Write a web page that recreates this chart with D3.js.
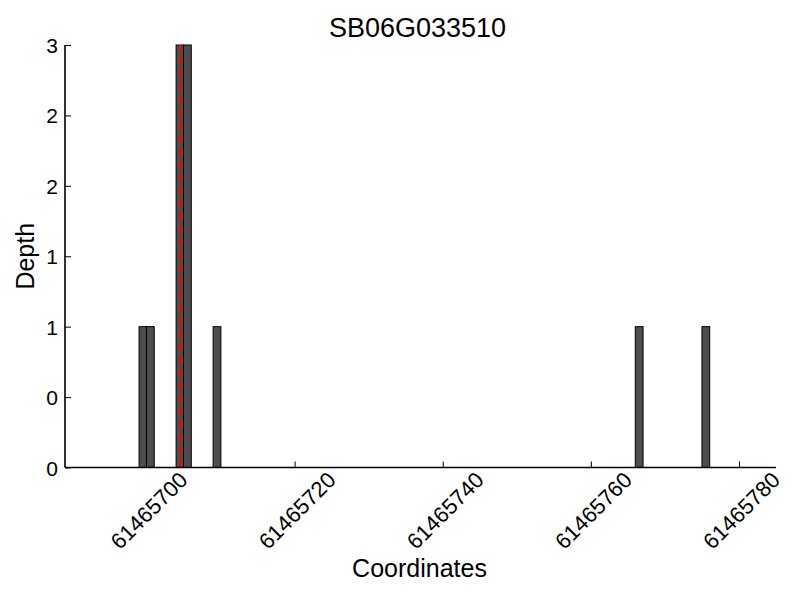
<!DOCTYPE html>
<html>
<head>
<meta charset="utf-8">
<script src="https://cdn.jsdelivr.net/npm/d3@7"></script>
<style>
  body { margin: 0; background: #fff; }
  text { font-family: "Liberation Sans", Arial, Helvetica, sans-serif; fill: #000; }
</style>
</head>
<body>
<svg id="chart" width="800" height="600"></svg>
<script>
// ---- data ----
const title = "SB06G033510";
const xLabel = "Coordinates";
const yLabel = "Depth";
const binStarts = [61465699, 61465700, 61465704, 61465705, 61465709, 61465766, 61465775];
const depths    = [1, 1, 3, 3, 1, 1, 1];
const binWidth  = 1.05;
const markerPos = 61465704.55;
const xDomain = [61465689, 61465785];
const yDomain = [0, 3];
const xTickValues = [61465700, 61465720, 61465740, 61465760, 61465780];
const xTickLabels = ["61465700", "61465720", "61465740", "61465760", "61465780"];
const yTickValues = [0, 0.5, 1, 1.5, 2, 2.5, 3];
const yTickLabels = ["0", "0", "1", "1", "2", "2", "3"];

// ---- layout ----
const pLeft = 65, pRight = 776, pTop = 45, pBottom = 467.5;
const svg = d3.select("#chart");
const x = d3.scaleLinear().domain(xDomain).range([pLeft, pRight]);
const y = d3.scaleLinear().domain(yDomain).range([pBottom, pTop]);

// x axis ticks (inward)
const xAxis = d3.axisBottom(x).tickValues(xTickValues)
  .tickFormat((d, i) => xTickLabels[i]).tickSizeInner(-6).tickSizeOuter(0);
const gx = svg.append("g").attr("transform", `translate(0,${pBottom})`).call(xAxis);
gx.select(".domain").remove();
gx.selectAll(".tick line").attr("stroke", "#000").attr("stroke-width", 1);
gx.selectAll(".tick text")
  .attr("font-size", 22)
  .attr("text-anchor", "middle")
  .attr("y", 0).attr("dy", "0.35em")
  .attr("transform", "translate(2,43) rotate(-45)");

// y axis ticks (inward)
const yAxis = d3.axisLeft(y).tickValues(yTickValues)
  .tickFormat((d, i) => yTickLabels[i]).tickSizeInner(-6).tickSizeOuter(0).tickPadding(7);
const gy = svg.append("g").attr("transform", `translate(${pLeft},0)`).call(yAxis);
gy.select(".domain").remove();
gy.selectAll(".tick line").attr("stroke", "#000").attr("stroke-width", 1);
gy.selectAll(".tick text").attr("font-size", 21).attr("dy", "0.36em");

// bars
svg.append("g").selectAll("rect").data(binStarts).join("rect")
  .attr("x", d => x(d))
  .attr("width", d => x(d + binWidth) - x(d))
  .attr("y", (d, i) => y(depths[i]))
  .attr("height", (d, i) => y(0) - y(depths[i]))
  .attr("fill", "#4d4d4d")
  .attr("stroke", "#000")
  .attr("stroke-width", 1);

// marker line
svg.append("line")
  .attr("x1", x(markerPos)).attr("x2", x(markerPos))
  .attr("y1", y(yDomain[0])).attr("y2", y(yDomain[1]))
  .attr("stroke", "#ff0000").attr("stroke-width", 2.2)
  .attr("stroke-dasharray", "9,4");

// spines
svg.append("line").attr("x1", pLeft).attr("x2", pRight).attr("y1", pBottom).attr("y2", pBottom)
  .attr("stroke", "#000").attr("stroke-width", 1.6);
svg.append("line").attr("x1", pLeft).attr("x2", pLeft).attr("y1", pTop).attr("y2", pBottom)
  .attr("stroke", "#000").attr("stroke-width", 1.6);

// labels
svg.append("text").attr("x", (pLeft + pRight) / 2 - 3).attr("y", 37)
  .attr("text-anchor", "middle").attr("font-size", 27).text(title);
svg.append("text").attr("x", (pLeft + pRight) / 2 - 1).attr("y", 577)
  .attr("text-anchor", "middle").attr("font-size", 25).text(xLabel);
svg.append("text").attr("transform", `translate(34,${(pTop + pBottom) / 2}) rotate(-90)`)
  .attr("text-anchor", "middle").attr("font-size", 25).text(yLabel);
</script>
</body>
</html>
